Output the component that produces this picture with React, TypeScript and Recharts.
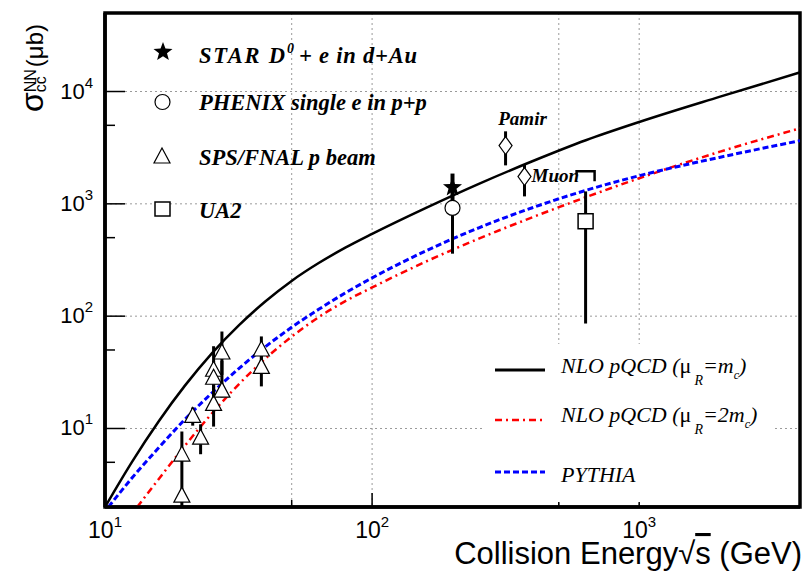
import React from 'react';
import {
  ComposedChart,
  Line,
  Scatter,
  ErrorBar,
  XAxis,
  YAxis,
  CartesianGrid,
  ReferenceArea,
} from 'recharts';

// NLO pQCD (mu_R = m_c)
const nloE = [10, 12.59, 15.85, 19.95, 25.12, 31.62, 39.81, 50.12, 63.1, 79.4, 100, 158.5, 251, 398, 631, 1000, 1995, 4000];
const nloSigma = [2.0, 5.0, 11.5, 24.2, 46.7, 82.4, 135, 207, 297, 407, 540, 916, 1507, 2393, 3681, 5350, 8950, 14800];

// NLO pQCD (mu_R = 2 m_c)
const nlo2E = [13.2, 15.85, 19.95, 25.12, 31.62, 39.81, 50.12, 63.1, 79.4, 100, 158.5, 251, 398, 631, 1000, 1995, 4000];
const nlo2Sigma = [2.0, 3.52, 7.06, 13.6, 24.6, 41.8, 66, 98, 136, 180, 305, 490, 759, 1145, 1690, 2900, 4700];

// PYTHIA
const pythiaE = [10.3, 12.59, 15.85, 19.95, 25.12, 31.62, 39.81, 50.12, 63.1, 79.4, 100, 158.5, 251, 398, 631, 1000, 1995, 4000];
const pythiaSigma = [2.0, 3.6, 6.7, 12.1, 20.7, 34, 53.3, 80, 115, 161, 219, 380, 612, 923, 1318, 1780, 2590, 3650];

// SPS/FNAL p beam
const spsE = [19.4, 19.4, 21.3, 22.8, 25.5, 25.5, 25.5, 27.4, 27.4, 38.5, 38.5];
const spsSigma = [5.8, 2.5, 12.8, 8.2, 33, 28, 16.4, 47, 21.5, 50, 35];
const spsLo = [2.0, 2.5, 10.6, 5.9, 22, 18, 10.4, 30, 18.9, 40, 23.7];
const spsHi = [9.4, 2.5, 15.4, 10.9, 54, 40, 24, 73, 40, 66, 45];

// STAR D0 + e in d+Au
const starE = [200];
const starSigma = [1400];
const starLo = [1000];
const starHi = [1860];

// PHENIX single e in p+p
const phenixE = [200];
const phenixSigma = [920];
const phenixLo = [360];
const phenixHi = [1230];

// UA2
const ua2E = [630];
const ua2Sigma = [700];
const ua2Lo = [86];
const ua2Hi = [1290];
const ua2LimitSigma = [1950];

// cosmic ray points
const cosmicNames = ['Pamir', 'Muon'];
const cosmicE = [316, 372];
const cosmicSigma = [3300, 1750];
const cosmicLo = [2200, 1165];
const cosmicHi = [4420, 2240];

const xTicks = [10, 50, 100, 500, 1000];
const yTicks = [5, 10, 50, 100, 500, 1000, 5000, 10000];
const xGrid = [50, 100, 500, 1000];
const yGrid = [10, 100, 1000, 10000];

const curve = (e: number[], s: number[]) => e.map((v, i) => ({ e: v, sigma: s[i] }));
const points = (e: number[], s: number[], lo: number[], hi: number[]) =>
  e.map((v, i) => ({ e: v, sigma: s[i], err: [s[i] - lo[i], hi[i] - s[i]] }));

const nloData = curve(nloE, nloSigma);
const nlo2Data = curve(nlo2E, nlo2Sigma);
const pythiaData = curve(pythiaE, pythiaSigma);
const spsData = points(spsE, spsSigma, spsLo, spsHi);
const starData = points(starE, starSigma, starLo, starHi);
const phenixData = points(phenixE, phenixSigma, phenixLo, phenixHi);
const ua2Data = points(ua2E, ua2Sigma, ua2Lo, ua2Hi);
const ua2LimitData = curve(ua2E, ua2LimitSigma);
const cosmicData = cosmicE.map((v, i) => ({
  ...points([v], [cosmicSigma[i]], [cosmicLo[i]], [cosmicHi[i]])[0],
  name: cosmicNames[i],
}));

const SANS = "'Liberation Sans', Arial, sans-serif";
const SERIF = "'Liberation Serif', 'Times New Roman', serif";
const RED_DASH = '7 4 2 4';
const BLUE_DASH = '6 3';

const isDecade = (v: number) => Math.abs(Math.log10(v) - Math.round(Math.log10(v))) < 1e-6;

const starPoints = (cx: number, cy: number, R: number, r: number) =>
  Array.from({ length: 10 }, (_, i) => {
    const a = -Math.PI / 2 + (i * Math.PI) / 5;
    const rr = i % 2 ? r : R;
    return `${cx + rr * Math.cos(a)},${cy + rr * Math.sin(a)}`;
  }).join(' ');

const triPath = (cx: number, cy: number) => `M${cx},${cy - 9} L${cx + 8},${cy + 6} L${cx - 8},${cy + 6} Z`;

const XTick = (props: any) => {
  const { x, y, payload } = props;
  const v = payload.value;
  const major = isDecade(v);
  return (
    <g>
      <line x1={x} x2={x} y1={y} y2={y - (major ? 14 : 7)} stroke="#000" strokeWidth={1.5} />
      {major && (
        <text x={x} y={y + 31} textAnchor="middle" fontFamily={SANS} fontSize={23} fill="#000">
          10<tspan dy={-11} fontSize={15}>{Math.round(Math.log10(v))}</tspan>
        </text>
      )}
    </g>
  );
};

const YTick = (props: any) => {
  const { x, y, payload } = props;
  const v = payload.value;
  const major = isDecade(v);
  return (
    <g>
      <line x1={x} x2={x + (major ? 20 : 10)} y1={y} y2={y} stroke="#000" strokeWidth={1.5} />
      {major && (
        <text x={x - 12} y={y + 7} textAnchor="end" fontFamily={SANS} fontSize={22} fill="#000">
          10<tspan dy={-11} fontSize={15}>{Math.round(Math.log10(v))}</tspan>
        </text>
      )}
    </g>
  );
};

const TriangleShape = (p: any) => (
  <path d={triPath(p.cx, p.cy)} fill="#fff" stroke="#000" strokeWidth={1.2} />
);
const StarShape = (p: any) => <polygon points={starPoints(p.cx, p.cy, 10, 4.2)} fill="#000" />;
const CircleShape = (p: any) => <circle cx={p.cx} cy={p.cy} r={7.5} fill="#fff" stroke="#000" strokeWidth={1.2} />;
const SquareShape = (p: any) => (
  <rect x={p.cx - 7.5} y={p.cy - 7.5} width={15} height={15} fill="#fff" stroke="#000" strokeWidth={1.5} />
);
const BracketShape = (p: any) => (
  <path
    d={`M${p.cx - 9},${p.cy + 3} V${p.cy} H${p.cx + 9} V${p.cy + 10}`}
    fill="none"
    stroke="#000"
    strokeWidth={2.5}
  />
);
const DiamondShape = (p: any) => {
  const { cx, cy, payload } = p;
  const pamir = payload.name === 'Pamir';
  return (
    <g>
      <path
        d={`M${cx},${cy - 9} L${cx + 6.5},${cy} L${cx},${cy + 9} L${cx - 6.5},${cy} Z`}
        fill="#fff"
        stroke="#000"
        strokeWidth={1.2}
      />
      <text
        x={pamir ? cx + 17 : cx + 7}
        y={pamir ? cy - 21 : cy + 5}
        textAnchor={pamir ? 'middle' : 'start'}
        fontFamily={SERIF}
        fontWeight="bold"
        fontStyle="italic"
        fontSize={19}
        fill="#000"
      >
        {payload.name}
      </text>
    </g>
  );
};

const Overlay = () => (
  <svg width={804} height={573} style={{ position: 'absolute', left: 0, top: 0, pointerEvents: 'none' }}>
    {/* y axis title */}
    <text transform="translate(43,112) rotate(-90)" fontFamily={SANS} fill="#000">
      <tspan fontSize={32}>σ</tspan>
      <tspan dy={-7} fontSize={16}>NN</tspan>
      <tspan dx={-23} dy={10} fontSize={16}>{'cc\u0304'}</tspan>
      <tspan dx={9} dy={-3} fontSize={24}>(μb)</tspan>
    </text>
    {/* x axis title */}
    <text x={802} y={564} textAnchor="end" fontFamily={SANS} fontSize={31} fill="#000">
      Collision Energy√<tspan style={{ textDecoration: 'overline' }}>s</tspan> (GeV)
    </text>

    {/* data legend */}
    <g fontFamily={SERIF} fontWeight="bold" fontStyle="italic" fontSize={22.5} fill="#000">
      <polygon points={starPoints(163, 52, 10, 4.2)} fill="#000" />
      <text x={199} y={63} textLength={86} lengthAdjust="spacing">STAR D</text>
      <text x={287} y={53} fontSize={14}>0</text>
      <text x={299} y={63} textLength={118} lengthAdjust="spacing">+ e in d+Au</text>
      <circle cx={162.5} cy={102} r={7.5} fill="#fff" stroke="#000" strokeWidth={1.2} />
      <text x={199} y={110}>PHENIX single e in p+p</text>
      <path d={triPath(162, 157)} fill="#fff" stroke="#000" strokeWidth={1.2} />
      <text x={199} y={165}>SPS/FNAL p beam</text>
      <rect x={155} y={202} width={15} height={14} fill="#fff" stroke="#000" strokeWidth={1.5} />
      <text x={199} y={218}>UA2</text>
    </g>

    {/* model legend */}
    <rect x={485} y={344} width={288} height={158} fill="#fff" />
    <g fontFamily={SERIF} fontStyle="italic" fontSize={22} fill="#000">
      <line x1={495} x2={545} y1={370} y2={370} stroke="#000" strokeWidth={3} />
      <text x={561} y={373}>
        NLO pQCD (<tspan fontStyle="normal">μ</tspan>
        <tspan dx={3} dy={12} fontSize={14}>R</tspan>
        <tspan dy={-12}>=m</tspan>
        <tspan dy={6} fontSize={12}>c</tspan>
        <tspan dy={-6}>)</tspan>
      </text>
      <line x1={495} x2={545} y1={420} y2={420} stroke="#ff0000" strokeWidth={2.5} strokeDasharray={RED_DASH} />
      <text x={561} y={422}>
        NLO pQCD (<tspan fontStyle="normal">μ</tspan>
        <tspan dx={3} dy={12} fontSize={14}>R</tspan>
        <tspan dy={-12}>=2m</tspan>
        <tspan dy={6} fontSize={12}>c</tspan>
        <tspan dy={-6}>)</tspan>
      </text>
      <line x1={495} x2={545} y1={472} y2={472} stroke="#0000ff" strokeWidth={3} strokeDasharray={BLUE_DASH} />
      <text x={561} y={482}>PYTHIA</text>
    </g>
  </svg>
);

export default function App() {
  return (
    <div style={{ position: 'absolute', left: 0, top: 0, width: 804, height: 573, background: '#fff' }}>
      <ComposedChart width={804} height={573} margin={{ top: 13, right: 4, bottom: 0, left: 0 }}>
        <CartesianGrid
          stroke="#9a9a9a"
          strokeDasharray="2 3"
          horizontalValues={yGrid}
          verticalValues={xGrid}
        />
        <XAxis
          type="number"
          dataKey="e"
          scale="log"
          domain={[10, 4000]}
          allowDataOverflow
          ticks={xTicks}
          interval={0}
          tick={(p: any) => <XTick {...p} />}
          tickLine={false}
          tickSize={0}
          tickMargin={0}
          height={66}
          axisLine={{ stroke: '#000', strokeWidth: 3.5 }}
        />
        <YAxis
          type="number"
          dataKey="sigma"
          scale="log"
          domain={[2, 50000]}
          allowDataOverflow
          ticks={yTicks}
          interval={0}
          tick={(p: any) => <YTick {...p} />}
          tickLine={false}
          tickSize={0}
          tickMargin={0}
          width={105}
          axisLine={{ stroke: '#000', strokeWidth: 3.5 }}
        />
        <ReferenceArea
          x1={10}
          x2={4000}
          y1={2}
          y2={50000}
          fill="none"
          stroke="#000"
          strokeWidth={3.5}
          ifOverflow="visible"
        />
        <Line data={nloData} dataKey="sigma" type="monotone" stroke="#000" strokeWidth={2.5} dot={false} isAnimationActive={false} />
        <Line data={nlo2Data} dataKey="sigma" type="monotone" stroke="#ff0000" strokeWidth={2.5} strokeDasharray={RED_DASH} dot={false} isAnimationActive={false} />
        <Line data={pythiaData} dataKey="sigma" type="monotone" stroke="#0000ff" strokeWidth={3} strokeDasharray={BLUE_DASH} dot={false} isAnimationActive={false} />

        <Scatter data={spsData} dataKey="sigma" shape={TriangleShape} isAnimationActive={false}>
          <ErrorBar dataKey="err" direction="y" width={0} stroke="#000" strokeWidth={3} />
        </Scatter>
        <Scatter data={phenixData} dataKey="sigma" shape={CircleShape} isAnimationActive={false}>
          <ErrorBar dataKey="err" direction="y" width={0} stroke="#000" strokeWidth={3} />
        </Scatter>
        <Scatter data={starData} dataKey="sigma" shape={StarShape} isAnimationActive={false}>
          <ErrorBar dataKey="err" direction="y" width={0} stroke="#000" strokeWidth={4} />
        </Scatter>
        <Scatter data={ua2Data} dataKey="sigma" shape={SquareShape} isAnimationActive={false}>
          <ErrorBar dataKey="err" direction="y" width={0} stroke="#000" strokeWidth={3} />
        </Scatter>
        <Scatter data={ua2LimitData} dataKey="sigma" shape={BracketShape} isAnimationActive={false} />
        <Scatter data={cosmicData} dataKey="sigma" shape={DiamondShape} isAnimationActive={false}>
          <ErrorBar dataKey="err" direction="y" width={0} stroke="#000" strokeWidth={3} />
        </Scatter>
      </ComposedChart>
      <Overlay />
    </div>
  );
}
